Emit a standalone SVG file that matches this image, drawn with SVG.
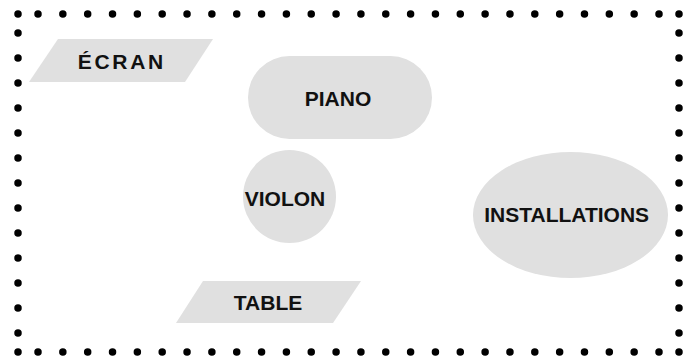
<svg xmlns="http://www.w3.org/2000/svg" width="694" height="358" viewBox="0 0 694 358">
<style>
.shape{fill:#e0e0e0;stroke:none}
.lbl{font-family:"Liberation Sans",Arial,sans-serif;font-weight:bold;font-size:21px;fill:#111;text-anchor:middle}
.dots{fill:none;stroke:#000;stroke-width:7.5;stroke-linecap:round}
.corner{fill:#000}
</style>
<rect width="694" height="358" fill="#fff"/>
<g id="border">
<path class="dots" d="M38 14 H659.5" stroke-dasharray="0 24.84"/>
<path class="dots" d="M38 352 H659.5" stroke-dasharray="0 24.84"/>
<path class="dots" d="M18 33 V333.5" stroke-dasharray="0 25"/>
<path class="dots" d="M679 33 V333.5" stroke-dasharray="0 25"/>
<circle class="corner" cx="18" cy="14" r="3.75"/>
<circle class="corner" cx="679" cy="14" r="3.75"/>
<circle class="corner" cx="18" cy="352" r="3.75"/>
<circle class="corner" cx="679" cy="352" r="3.75"/>
</g>
<g id="connectors"></g>
<g id="ecran">
<polygon class="shape" points="58,39 213,39 185,82 29,82"/>
<text class="lbl" x="121.8" y="68.5" letter-spacing="2.7">ÉCRAN</text>
</g>
<g id="piano">
<rect class="shape" x="248" y="56" width="184" height="83" rx="41.5"/>
<text class="lbl" x="338" y="105.5">PIANO</text>
</g>
<g id="violon">
<circle class="shape" cx="289.5" cy="196.5" r="46.5"/>
<text class="lbl" x="285" y="205.5">VIOLON</text>
</g>
<g id="installations">
<ellipse class="shape" cx="570.5" cy="215" rx="97.5" ry="63"/>
<text class="lbl" x="566.7" y="222">INSTALLATIONS</text>
</g>
<g id="table">
<polygon class="shape" points="203,281 361,281 333,323 176,323"/>
<text class="lbl" x="268" y="310">TABLE</text>
</g>
</svg>
